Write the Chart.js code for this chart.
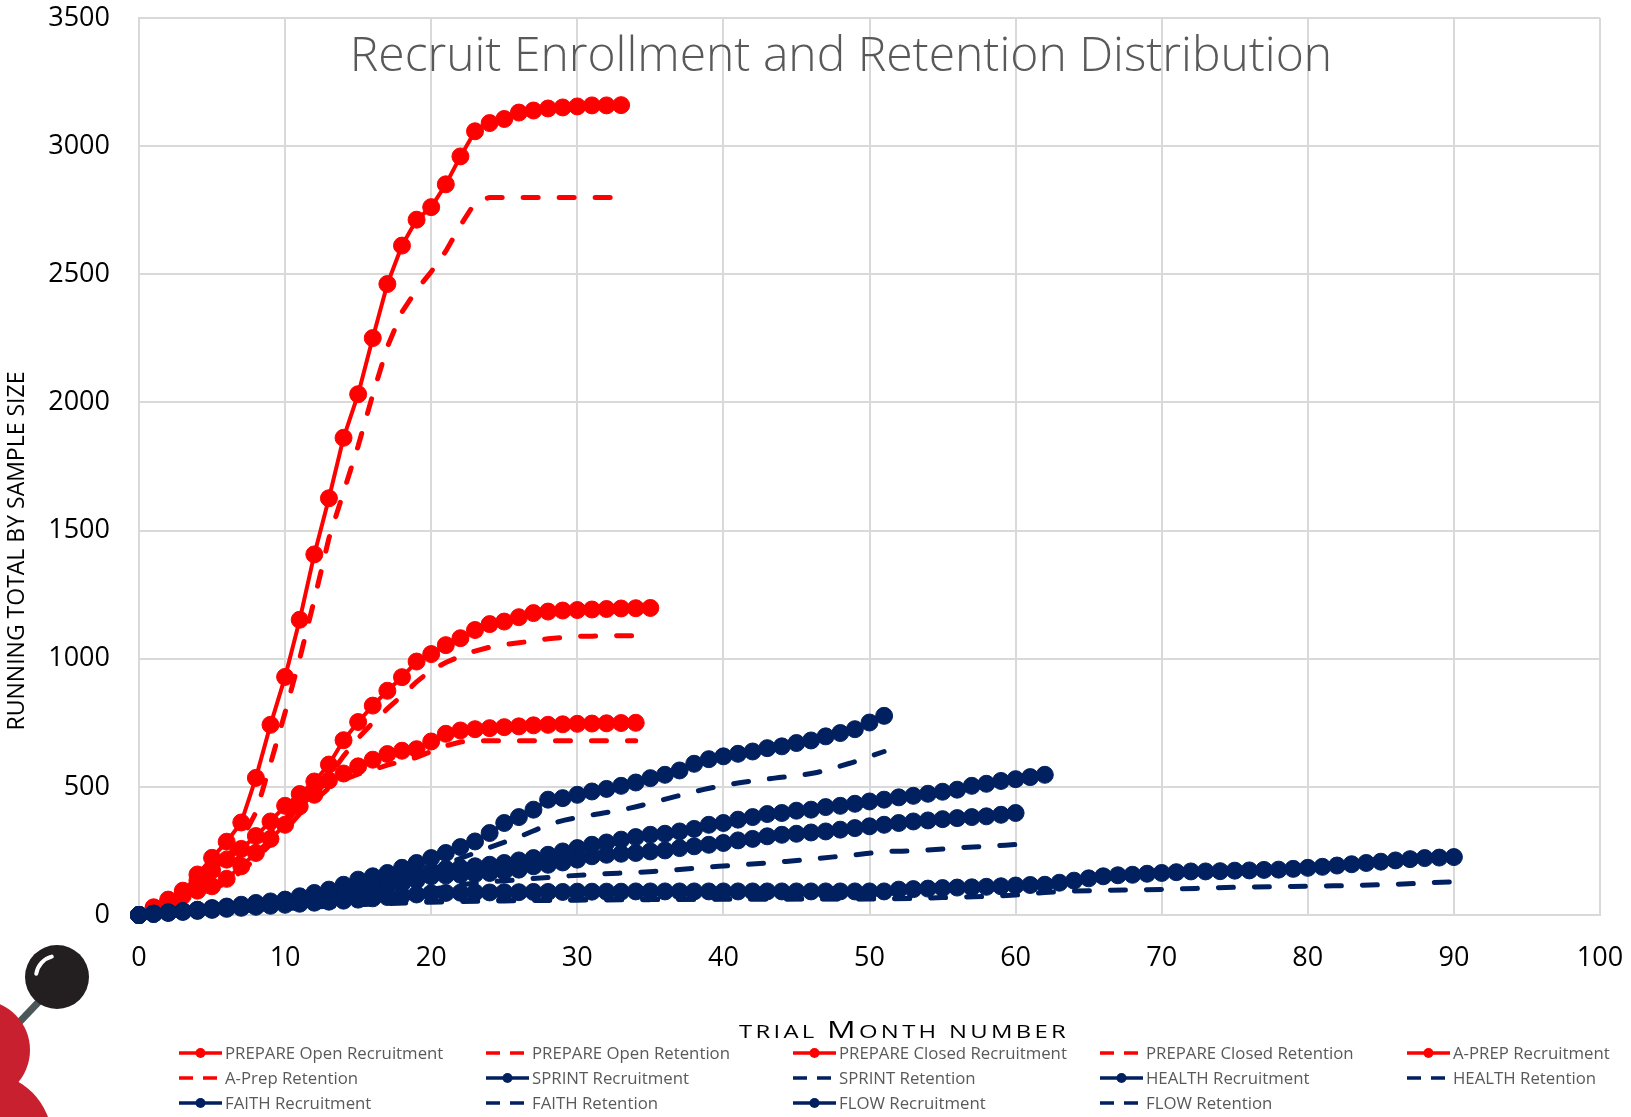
<!DOCTYPE html>
<html lang="en">
<head>
<meta charset="utf-8">
<title>Recruit Enrollment and Retention Distribution</title>
<script src="https://cdn.jsdelivr.net/npm/chart.js@4.4.1/dist/chart.umd.min.js"></script>
<style>
  html, body { margin: 0; padding: 0; background: #fff; }
  #contenedor { width: 1631px; height: 1117px; }
</style>
</head>
<body>
<div id="contenedor"><canvas id="grafica" width="1631" height="1117"></canvas></div>
<script>
//-----------------colores de las series-------------------------
const colorRojo = '#FF0000'
const colorAzul = '#002060'

//-----------------textos del grafico-------------------------
const titulo = 'Recruit Enrollment and Retention Distribution'
const tituloEjeY = 'RUNNING TOTAL BY SAMPLE SIZE'
const etiquetas = [
    'PREPARE Open Recruitment', 'PREPARE Open Retention',
    'PREPARE Closed Recruitment', 'PREPARE Closed Retention',
    'A-PREP Recruitment', 'A-Prep Retention',
    'SPRINT Recruitment', 'SPRINT Retention',
    'HEALTH Recruitment', 'HEALTH Retention',
    'FAITH Recruitment', 'FAITH Retention',
    'FLOW Recruitment', 'FLOW Retention'
]

//-----------------series rojas: un valor por mes, empezando en el mes 0-------------------------
const prepareAbiertoReclut = [0, 28, 53, 87, 158, 223, 286, 361, 535, 742, 929, 1152, 1407, 1626, 1862, 2032, 2251, 2462, 2612, 2713, 2762, 2851, 2960, 3058, 3090, 3106, 3131, 3139, 3147, 3151, 3155, 3159, 3159, 3160]
const prepareAbiertoRetenc = [0, 15, 35, 60, 110, 165, 225, 290, 400, 590, 790, 1000, 1230, 1470, 1650, 1830, 2030, 2217, 2353, 2440, 2510, 2590, 2690, 2780, 2800, 2800, 2800, 2800, 2800, 2800, 2800, 2800, 2800, 2800]
const prepareCerradoReclut = [0, 30, 60, 95, 135, 175, 216, 258, 308, 365, 426, 472, 521, 587, 682, 753, 817, 875, 928, 989, 1018, 1053, 1080, 1112, 1135, 1145, 1162, 1178, 1184, 1188, 1190, 1192, 1194, 1196, 1197, 1198]
const prepareCerradoRetenc = [0, 25, 50, 80, 115, 150, 190, 230, 275, 325, 380, 425, 470, 540, 620, 690, 750, 805, 855, 910, 955, 985, 1010, 1030, 1045, 1055, 1062, 1070, 1078, 1083, 1087, 1088, 1089, 1090, 1090, 1090]
const aprepReclut = [0, 25, 50, 75, 95, 112, 141, 190, 242, 297, 352, 424, 469, 525, 552, 580, 606, 628, 641, 647, 677, 707, 720, 725, 729, 733, 736, 740, 742, 744, 746, 747, 748, 749, 750]
const aprepRetenc = [0, 20, 40, 60, 80, 100, 125, 170, 220, 275, 330, 395, 445, 495, 528, 550, 567, 585, 599, 615, 638, 660, 675, 680, 680, 680, 680, 680, 680, 680, 680, 680, 680, 680, 680]

//-----------------series azules: reclutamiento por mes, retencion en los meses leidos-------------------------
const sprintReclut = [0, 5, 10, 15, 20, 27, 33, 40, 47, 53, 60, 73, 86, 99, 118, 138, 151, 164, 184, 203, 222, 242, 265, 287, 320, 359, 382, 411, 450, 456, 469, 482, 492, 504, 517, 534, 547, 564, 590, 608, 619, 629, 638, 651, 658, 671, 681, 697, 710, 725, 751, 777]
const sprintRetencMeses = [0, 5, 10, 15, 20, 23.6, 26.1, 28.4, 31.1, 33.6, 35.9, 38.6, 41, 43.5, 46.2, 48.7, 51]
const sprintRetenc = [0, 20, 45, 100, 180, 255, 307, 359, 391, 417, 450, 489, 515, 534, 554, 593, 638]
const healthReclut = [0, 5, 10, 15, 20, 25, 30, 36, 42, 48, 55, 62, 70, 80, 90, 100, 112, 125, 140, 155, 170, 180, 184, 190, 196, 203, 213, 222, 235, 248, 261, 274, 283, 294, 304, 313, 317, 326, 336, 352, 359, 372, 382, 394, 398, 407, 411, 421, 426, 434, 443, 450, 459, 465, 473, 481, 489, 504, 512, 523, 530, 538, 547]
const healthRetencMeses = [0, 10, 15, 20, 25, 30, 35, 40, 45, 50, 53]
const healthRetenc = [0, 25, 40, 50, 55, 58, 60, 62, 63, 64, 65]
const faithReclut = [0, 5, 10, 14, 18, 22, 27, 32, 38, 44, 50, 57, 64, 72, 80, 90, 100, 110, 122, 136, 151, 154, 157, 160, 164, 170, 177, 190, 196, 205, 216, 229, 235, 239, 242, 248, 252, 261, 268, 274, 281, 291, 297, 307, 313, 317, 322, 326, 333, 339, 346, 352, 359, 365, 369, 374, 378, 382, 385, 391, 398]
const faithRetencMeses = [0, 10, 15, 20, 22.6, 26, 30.6, 35.2, 39.7, 44.3, 49, 51.3, 53, 56, 58, 60]
const faithRetenc = [0, 30, 60, 100, 122, 138, 157, 170, 190, 209, 235, 248, 250, 262, 268, 275]
const flowReclut = [0, 4, 8, 12, 16, 20, 24, 28, 32, 36, 40, 44, 48, 52, 56, 60, 65, 70, 75, 80, 85,
    86, 87, 88, 88, 89, 89, 90, 90, 90, 91, 91, 91, 91, 92, 92, 92, 92, 92, 92, 92, 92, 92, 92, 92, 92, 92, 92, 92, 92, 92,
    92, 99, 101, 103, 105, 107, 108, 110, 112, 115, 117, 118,
    126, 134, 143, 151, 155, 157, 161, 164, 167, 170, 170, 171, 173, 174, 176, 177, 180, 184, 188, 193, 198, 203, 208, 213, 218, 222, 224, 226]
const flowRetencMeses = [0, 10, 20, 30, 40, 50, 55, 60, 62, 65, 70, 75, 80, 85, 90]
const flowRetenc = [0, 30, 55, 60, 62, 62, 68, 78, 88, 95, 100, 108, 112, 118, 130]

//-----------------ejes-------------------------
const mesMin = 0
const mesMax = 100
const mesPaso = 10
const totalMin = 0
const totalMax = 3500
const totalPaso = 500

//convierte los valores (y los meses si se pasan) en puntos x/y
function puntos(valores, meses) {
    return valores.map(function (v, i) {
        return { x: meses ? meses[i] : i, y: v }
    })
}

//linea continua con marcadores
function reclutamiento(nombre, valores, color) {
    return {
        label: nombre,
        data: puntos(valores),
        borderColor: color,
        backgroundColor: color,
        borderWidth: 4,
        borderJoinStyle: 'round',
        pointRadius: 8.5,
        pointBackgroundColor: color,
        pointBorderColor: color,
        pointBorderWidth: 1,
        tension: 0,
        clip: false
    }
}

//linea discontinua sin marcadores
function retencion(nombre, valores, color, meses) {
    return {
        label: nombre,
        data: puntos(valores, meses),
        borderColor: color,
        backgroundColor: color,
        borderWidth: 5,
        borderDash: [15, 21],
        borderCapStyle: 'round',
        pointRadius: 0,
        cubicInterpolationMode: meses ? 'monotone' : 'default',
        tension: 0,
        clip: false
    }
}

const series = [
    reclutamiento(etiquetas[0], prepareAbiertoReclut, colorRojo),
    retencion(etiquetas[1], prepareAbiertoRetenc, colorRojo),
    reclutamiento(etiquetas[2], prepareCerradoReclut, colorRojo),
    retencion(etiquetas[3], prepareCerradoRetenc, colorRojo),
    reclutamiento(etiquetas[4], aprepReclut, colorRojo),
    retencion(etiquetas[5], aprepRetenc, colorRojo),
    reclutamiento(etiquetas[6], sprintReclut, colorAzul),
    retencion(etiquetas[7], sprintRetenc, colorAzul, sprintRetencMeses),
    reclutamiento(etiquetas[8], healthReclut, colorAzul),
    retencion(etiquetas[9], healthRetenc, colorAzul, healthRetencMeses),
    reclutamiento(etiquetas[10], faithReclut, colorAzul),
    retencion(etiquetas[11], faithRetenc, colorAzul, faithRetencMeses),
    reclutamiento(etiquetas[12], flowReclut, colorAzul),
    retencion(etiquetas[13], flowRetenc, colorAzul, flowRetencMeses)
]
//como en excel, la ultima serie queda encima
series.forEach(function (s, i) { s.order = series.length - i })

//-----------------plugin: titulo, titulos de ejes, leyenda y el dibujo de la esquina-------------------------
const textosPlugin = {
    id: 'textos',
    afterDraw(chart) {
        const c = chart.ctx
        c.save()

        //titulo dentro del area del grafico
        c.fillStyle = '#595959'
        c.font = '300 48px "Open Sans"'
        c.textAlign = 'center'
        c.textBaseline = 'alphabetic'
        c.fillText(titulo, 841, 71, 990)

        //titulo del eje y
        c.save()
        c.translate(17, 551)
        c.rotate(-Math.PI / 2)
        c.fillStyle = '#000'
        c.font = '23px "Open Sans"'
        c.textAlign = 'center'
        c.textBaseline = 'middle'
        c.fillText(tituloEjeY, 0, 0, 360)
        c.restore()

        //titulo del eje x en versalitas
        const partes = [['TRIAL ', 18], ['M', 24], ['ONTH NUMBER', 18]]
        c.letterSpacing = '2.5px'
        let ancho = 0
        partes.forEach(function (p) {
            c.font = p[1] + 'px "Open Sans"'
            ancho += c.measureText(p[0]).width
        })
        const escala = 330 / ancho
        c.save()
        c.translate(739, 1038)
        c.scale(escala, 1)
        c.fillStyle = '#000'
        c.textAlign = 'left'
        let px = 0
        partes.forEach(function (p) {
            c.font = p[1] + 'px "Open Sans"'
            c.fillText(p[0], px, 0)
            px += c.measureText(p[0]).width
        })
        c.restore()
        c.letterSpacing = '0px'

        //leyenda en 5 columnas
        c.font = '16.8px "Open Sans"'
        c.textAlign = 'left'
        c.textBaseline = 'middle'
        chart.data.datasets.forEach(function (ds, i) {
            const x = 179 + (i % 5) * 307
            const y = 1053 + Math.floor(i / 5) * 25
            c.strokeStyle = ds.borderColor
            c.lineWidth = 3.5
            c.lineCap = 'butt'
            c.beginPath()
            if (ds.borderDash) {
                c.moveTo(x, y); c.lineTo(x + 14, y)
                c.moveTo(x + 24, y); c.lineTo(x + 38, y)
            } else {
                c.moveTo(x, y); c.lineTo(x + 43, y)
            }
            c.stroke()
            if (!ds.borderDash) {
                c.fillStyle = ds.borderColor
                c.beginPath()
                c.arc(x + 21.5, y, 5, 0, 2 * Math.PI)
                c.fill()
            }
            c.fillStyle = '#595959'
            c.fillText(ds.label, x + 46, y + 1)
        })

        //dibujo de la esquina inferior izquierda
        c.strokeStyle = '#4b5759'
        c.lineWidth = 7
        c.beginPath()
        c.moveTo(48, 992)
        c.lineTo(10, 1032)
        c.stroke()
        c.fillStyle = '#c8202f'
        c.beginPath()
        c.arc(-20, 1050, 50, 0, 2 * Math.PI)
        c.fill()
        c.beginPath()
        c.arc(-15, 1140, 67, 0, 2 * Math.PI)
        c.fill()
        c.fillStyle = '#231f20'
        c.beginPath()
        c.arc(57, 977, 32, 0, 2 * Math.PI)
        c.fill()
        c.strokeStyle = '#ffffff'
        c.lineWidth = 4
        c.lineCap = 'round'
        c.beginPath()
        c.arc(57, 977, 21, 1.05 * Math.PI, 1.42 * Math.PI)
        c.stroke()

        c.restore()
    }
}

//-----------------grafica-------------------------
const canvas = document.querySelector('#grafica')
const ctx = canvas.getContext('2d')
const fuenteTicks = { family: '"Open Sans"', size: 27 }
//numeros sin separador de miles
const sinComas = function (valor) { return String(valor) }

let chart = new Chart(ctx, {
    type: 'line',
    data: { datasets: series },
    options: {
        responsive: false,
        animation: false,
        events: [],
        layout: { padding: { top: 18, right: 31, left: 0, bottom: 0 } },
        plugins: {
            legend: { display: false },
            title: { display: false },
            tooltip: { enabled: false }
        },
        scales: {
            x: {
                type: 'linear',
                min: mesMin,
                max: mesMax,
                ticks: { stepSize: mesPaso, padding: 27, color: '#000', font: fuenteTicks, callback: sinComas },
                grid: { color: '#d9d9d9', lineWidth: 2, drawTicks: false },
                border: { color: '#d9d9d9', width: 2 },
                afterFit: function (s) {
                    s.height = 202
                    s.paddingLeft = 0
                    s.paddingRight = 0
                }
            },
            y: {
                min: totalMin,
                max: totalMax,
                ticks: { stepSize: totalPaso, padding: 29, color: '#000', font: fuenteTicks, callback: sinComas },
                grid: { color: '#d9d9d9', lineWidth: 2, drawTicks: false },
                border: { color: '#d9d9d9', width: 2 },
                afterFit: function (s) {
                    s.width = 139
                    s.paddingTop = 0
                    s.paddingBottom = 0
                }
            }
        }
    },
    plugins: [textosPlugin]
})
</script>
</body>
</html>
